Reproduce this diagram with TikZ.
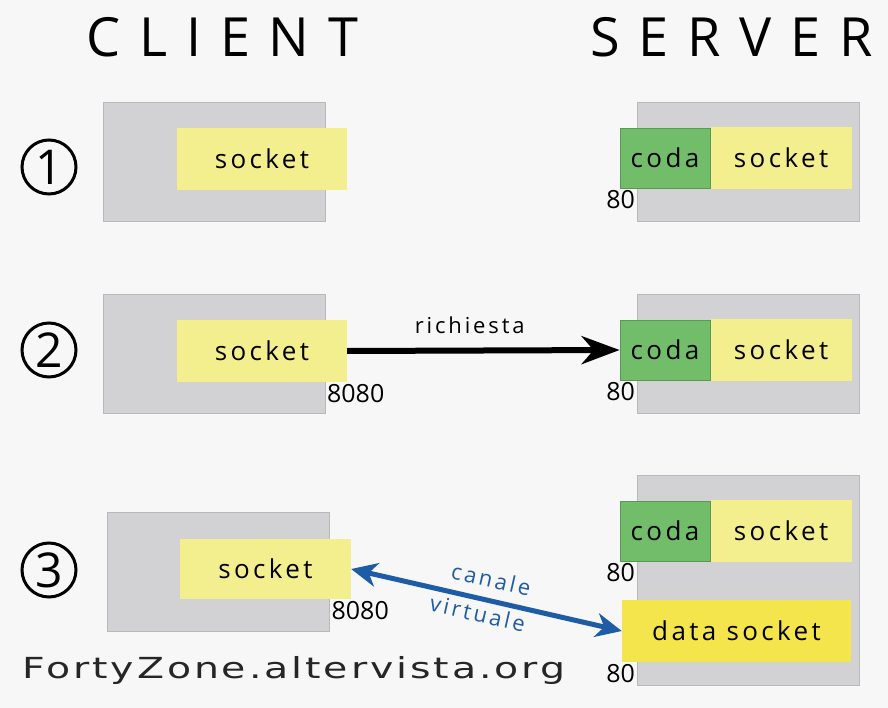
\documentclass[tikz,border=0pt]{standalone}
\usepackage{fontspec}
\setmainfont{Open Sans}
\newfontfamily\labelfont[LetterSpace=13]{Open Sans}
\newfontfamily\titlefont[LetterSpace=35]{Open Sans}
\newfontfamily\sitefont[LetterSpace=10, FakeStretch=1.36]{DejaVu Sans}
\usetikzlibrary{arrows.meta, positioning, calc}
\definecolor{PageGray}{HTML}{F7F7F7}
\definecolor{HostGray}{HTML}{D2D2D4}
\definecolor{SockYellow}{HTML}{F4EF8E}
\definecolor{DataYellow}{HTML}{F4E54C}
\definecolor{QueueGreen}{HTML}{72BD6A}
\definecolor{LinkBlue}{HTML}{1E5CA6}

\begin{document}
\begin{tikzpicture}[x=1pt, y=-1pt, every node/.style={inner sep=0pt, font=\labelfont\fontsize{26}{28}\selectfont},
    host/.style={draw=HostGray!88!black, line width=0.8pt, fill=HostGray, minimum width=222pt, minimum height=119pt},
    sock/.style={fill=SockYellow, minimum width=170pt, minimum height=62pt},
    queue/.style={draw=QueueGreen!80!black, line width=0.8pt, fill=QueueGreen, minimum width=90pt, minimum height=60pt},
    port/.style={inner sep=1.5pt, font=\fontsize{25}{27}\selectfont},
    stepnum/.style={circle, draw, line width=3pt, minimum size=54pt, font=\fontsize{48}{50}\selectfont},
    title/.style={anchor=base west, font=\titlefont\fontsize{54}{56}\selectfont}]
    \fill[PageGray] (0,0) rectangle (888,708);
    \useasboundingbox (0,0) rectangle (888,708);

    \node[title] (client) at (86,57) {CLIENT};
    \node[title] (server) at (590,57) {SERVER};

    % passo 1
    \node[stepnum] (n1) at (49,167) {1};
    \node[host] (cli1) at (214,161.5) {};
    \node[sock] (csock1) at (262,159) {socket};
    \node[host] (srv1) at (748,161.5) {};
    \node[queue] (coda1) at (665,158) {coda};
    \node[sock, minimum width=141pt, right=0pt of coda1] (ssock1) {socket};
    \node[port, anchor=north east] (sport1) at (srv1.west |- coda1.south) {80};

    % passo 2
    \node[stepnum] (n2) at (49,350) {2};
    \node[host] (cli2) at (214,353.5) {};
    \node[sock] (csock2) at (262,351) {socket};
    \node[port, anchor=north west] (cport2) at (cli2.east |- csock2.south) {8080};
    \node[host] (srv2) at (748,353.5) {};
    \node[queue] (coda2) at (665,350) {coda};
    \node[sock, minimum width=141pt, right=0pt of coda2] (ssock2) {socket};
    \node[port, anchor=north east] (sport2) at (srv2.west |- coda2.south) {80};

    % passo 3
    \node[stepnum] (n3) at (49,570) {3};
    \node[host] (cli3) at (218.5,571.5) {};
    \node[sock, minimum width=171pt, minimum height=60pt] (csock3) at (265.5,569) {socket};
    \node[port, anchor=north west] (cport3) at (cli3.east |- csock3.south) {8080};
    \node[host, minimum height=210pt] (srv3) at (748,580) {};
    \node[queue] (coda3) at (665,531) {coda};
    \node[sock, minimum width=141pt, right=0pt of coda3] (ssock3) {socket};
    \node[port, anchor=north east] (sport3) at (srv3.west |- coda3.south) {80};
    \node[sock, fill=DataYellow, minimum width=229pt] (data3) at (736.5,631) {data socket};
    \node[port, anchor=north east] (dport3) at (srv3.west |- data3.south) {80};

    % Arrows
    \draw[line width=6pt, -{Stealth[length=38pt, width=28pt, inset=12pt]}] (csock2.east) -- node[pos=0.45, above=14pt, font=\labelfont\fontsize{22}{24}\selectfont] {richiesta} (coda2.west);
    \draw[LinkBlue, line width=5pt, {Stealth[length=26pt, width=24pt, inset=8pt]}-{Stealth[length=26pt, width=24pt, inset=8pt]}] (csock3.east) --
        node[sloped, above=10pt, font=\labelfont\fontsize{22}{24}\selectfont] {canale}
        node[pos=0.48, sloped, below=4pt, font=\labelfont\fontsize{22}{24}\selectfont] {virtuale} (data3.west);

    \node[anchor=base west, font=\sitefont\fontsize{29}{30}\selectfont, text=black!85] (site) at (22,678) {FortyZone.altervista.org};
\end{tikzpicture}
\end{document}
